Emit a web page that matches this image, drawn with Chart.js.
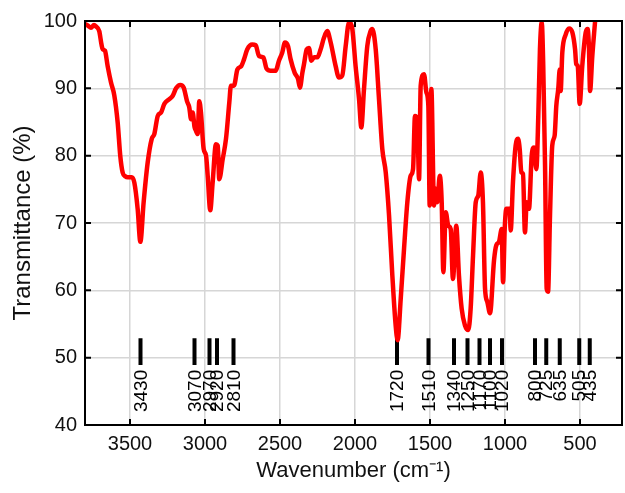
<!DOCTYPE html>
<html>
<head>
<meta charset="utf-8">
<title>FTIR spectrum</title>
<script src="https://cdn.jsdelivr.net/npm/chart.js@4/dist/chart.umd.min.js"></script>
<style>
  html, body { margin: 0; padding: 0; background: #fff; }
  canvas { display: block; }
</style>
</head>
<body>
<canvas id="irChart" width="625" height="493"></canvas>
<script>
// FTIR spectrum: wavenumber (cm-1) vs transmittance (%)
const wavenumbers = [
  3805, 3780, 3760, 3740, 3727, 3705, 3690, 3682, 3667, 3649, 3627, 3605, 3582, 3565, 3549, 3530,
  3515, 3489, 3471, 3449, 3431, 3409, 3382, 3355, 3338, 3315, 3293, 3271, 3238, 3215, 3193, 3165,
  3142, 3120, 3105, 3093, 3082, 3070, 3060, 3049, 3038, 3027, 3009, 2993, 2982, 2965, 2949, 2927,
  2915, 2905, 2882, 2860, 2838, 2827, 2807, 2784, 2758, 2740, 2718, 2685, 2662, 2640, 2611, 2589,
  2562, 2529, 2507, 2485, 2467, 2447, 2429, 2402, 2380, 2367, 2351, 2340, 2322, 2307, 2291, 2273,
  2251, 2229, 2207, 2185, 2162, 2129, 2107, 2085, 2062, 2040, 2018, 1996, 1973, 1958, 1940, 1918,
  1896, 1885, 1862, 1840, 1818, 1795, 1773, 1751, 1729, 1716, 1695, 1673, 1651, 1629, 1613, 1600,
  1585, 1573, 1562, 1540, 1524, 1511, 1502, 1491, 1473, 1462, 1451, 1435, 1422, 1411, 1395, 1378,
  1362, 1347, 1325, 1307, 1289, 1267, 1245, 1229, 1213, 1195, 1178, 1162, 1147, 1133, 1118, 1100,
  1073, 1058, 1040, 1022, 1013, 1002, 991, 969, 962, 947, 929, 913, 902, 891, 880, 867,
  855, 840, 822, 807, 791, 778, 767, 755, 745, 733, 722, 713, 700, 685, 669, 658,
  645, 635, 629, 618, 595, 573, 551, 533, 525, 515, 502, 485, 462, 449, 440, 433,
  418, 400
];
const transmittance = [
  99.6, 99.3, 99.0, 99.4, 99.2, 98.5, 96.5, 95.8, 95.6, 93.3, 90.9, 89.0, 84.9, 80.0, 77.5, 76.9,
  76.8, 76.8, 76.0, 72.1, 67.2, 73.1, 79.0, 82.5, 83.2, 85.9, 86.4, 87.7, 88.4, 88.9, 90.0, 90.5,
  90.1, 88.1, 87.2, 85.4, 86.4, 84.3, 83.7, 83.2, 88.1, 86.4, 81.0, 80.0, 77.0, 71.9, 76.0, 81.7,
  81.5, 76.5, 79.5, 82.5, 87.9, 90.4, 90.4, 92.8, 93.3, 94.3, 95.8, 96.5, 96.4, 94.8, 94.6, 92.9,
  92.6, 92.6, 94.1, 95.3, 96.8, 96.3, 94.3, 92.3, 91.4, 90.1, 92.3, 93.6, 95.8, 96.0, 94.1, 94.6,
  94.6, 95.8, 97.5, 98.5, 96.8, 93.3, 91.6, 91.9, 96.3, 99.8, 98.8, 93.3, 88.4, 84.2, 89.9, 96.3,
  98.5, 98.8, 95.8, 88.4, 81.0, 77.5, 71.1, 62.2, 54.8, 52.6, 58.8, 66.2, 73.1, 77.0, 78.0, 85.9,
  85.4, 76.5, 90.4, 92.1, 89.4, 87.4, 72.6, 89.9, 72.6, 75.1, 73.1, 77.0, 73.1, 62.7, 71.6, 69.6,
  69.1, 61.7, 69.6, 62.2, 57.3, 54.8, 54.1, 57.3, 65.2, 73.1, 74.1, 77.5, 73.1, 60.2, 58.3, 56.6,
  64.5, 66.7, 67.2, 69.1, 61.2, 69.1, 72.1, 72.1, 68.9, 76.0, 81.5, 82.5, 81.0, 77.5, 77.3, 68.6,
  73.1, 72.1, 80.0, 81.2, 78.0, 85.9, 95.8, 99.8, 93.3, 78.5, 60.2, 59.8, 71.1, 81.5, 83.0, 87.4,
  89.9, 92.8, 89.6, 95.3, 98.0, 98.9, 98.3, 95.8, 93.6, 93.3, 87.7, 93.3, 98.3, 98.8, 95.8, 89.6,
  94.8, 99.8
];

// assigned band positions
const peakWavenumbers = [3430, 3070, 2970, 2920, 2810, 1720, 1510, 1340, 1250, 1170, 1100, 1020, 800, 725, 635, 505, 435];

const xTicks = [3500, 3000, 2500, 2000, 1500, 1000, 500];
const yTicks = [40, 50, 60, 70, 80, 90, 100];

const FONT = "'Liberation Sans', Arial, sans-serif";
const MARK_TOP = 52.9;
const MARK_BOTTOM = 48.9;
const LABEL_Y = 48.2;

const spectrum = wavenumbers.map((w, i) => ({ x: w, y: transmittance[i] }));

// short vertical bars at each band, broken by nulls
const marks = [];
peakWavenumbers.forEach(w => {
  marks.push({ x: w, y: MARK_TOP }, { x: w, y: MARK_BOTTOM }, { x: w, y: null });
});

// axes frame with inward ticks, plus rotated band labels
const framePlugin = {
  id: 'frame',
  afterDraw(chart) {
    const { ctx, chartArea: a, scales: { x, y } } = chart;
    ctx.save();
    ctx.strokeStyle = '#000';
    ctx.lineWidth = 2;
    ctx.strokeRect(a.left, a.top, a.right - a.left, a.bottom - a.top);
    const t = 6;
    ctx.beginPath();
    xTicks.forEach(v => {
      const px = x.getPixelForValue(v);
      ctx.moveTo(px, a.top); ctx.lineTo(px, a.top + t);
      ctx.moveTo(px, a.bottom); ctx.lineTo(px, a.bottom - t);
    });
    yTicks.forEach(v => {
      const py = y.getPixelForValue(v);
      ctx.moveTo(a.left, py); ctx.lineTo(a.left + t, py);
      ctx.moveTo(a.right, py); ctx.lineTo(a.right - t, py);
    });
    ctx.stroke();

    ctx.fillStyle = '#000';
    ctx.font = '19px ' + FONT;
    ctx.textAlign = 'right';
    ctx.textBaseline = 'middle';
    const ly = y.getPixelForValue(LABEL_Y);
    peakWavenumbers.forEach(w => {
      ctx.save();
      ctx.translate(x.getPixelForValue(w), ly);
      ctx.rotate(-Math.PI / 2);
      ctx.fillText(String(w), 0, 1);
      ctx.restore();
    });
    ctx.restore();
  }
};

const ctx = document.getElementById('irChart').getContext('2d');

new Chart(ctx, {
  type: 'line',
  data: {
    datasets: [
      {
        data: spectrum,
        borderColor: '#ff0000',
        borderWidth: 4.5,
        pointRadius: 0,
        cubicInterpolationMode: 'monotone',
        borderJoinStyle: 'round',
        borderCapStyle: 'round',
        fill: false
      },
      {
        data: marks,
        borderColor: '#000',
        borderWidth: 4,
        pointRadius: 0,
        spanGaps: false,
        fill: false
      }
    ]
  },
  options: {
    responsive: false,
    animation: false,
    layout: { padding: { top: 21, right: 3, left: 0, bottom: 0 } },
    plugins: {
      legend: { display: false },
      tooltip: { enabled: false }
    },
    scales: {
      x: {
        type: 'linear',
        reverse: true,
        min: 220,
        max: 3800,
        afterBuildTicks: s => { s.ticks = xTicks.map(v => ({ value: v })); },
        afterFit: s => { s.height = 68; },
        border: { display: false },
        grid: { color: '#d6d6d6', lineWidth: 1.5, drawTicks: false },
        ticks: {
          color: '#111',
          font: { family: FONT, size: 20 },
          padding: 7,
          maxRotation: 0,
          callback: v => String(v)
        },
        title: {
          display: true,
          text: 'Wavenumber (cm\u207B\u00B9)',
          color: '#111',
          font: { family: FONT, size: 22 },
          padding: { top: 0, bottom: 9 }
        }
      },
      y: {
        min: 40,
        max: 100,
        afterBuildTicks: s => { s.ticks = yTicks.map(v => ({ value: v })); },
        afterFit: s => { s.width = 85; },
        border: { display: false },
        grid: { color: '#d6d6d6', lineWidth: 1.5, drawTicks: false },
        ticks: { color: '#111', font: { family: FONT, size: 20 }, padding: 8 },
        title: {
          display: true,
          text: 'Transmittance (%)',
          color: '#111',
          font: { family: FONT, size: 24 },
          padding: { top: 9, bottom: 0 }
        }
      }
    }
  },
  plugins: [framePlugin]
});
</script>
</body>
</html>
